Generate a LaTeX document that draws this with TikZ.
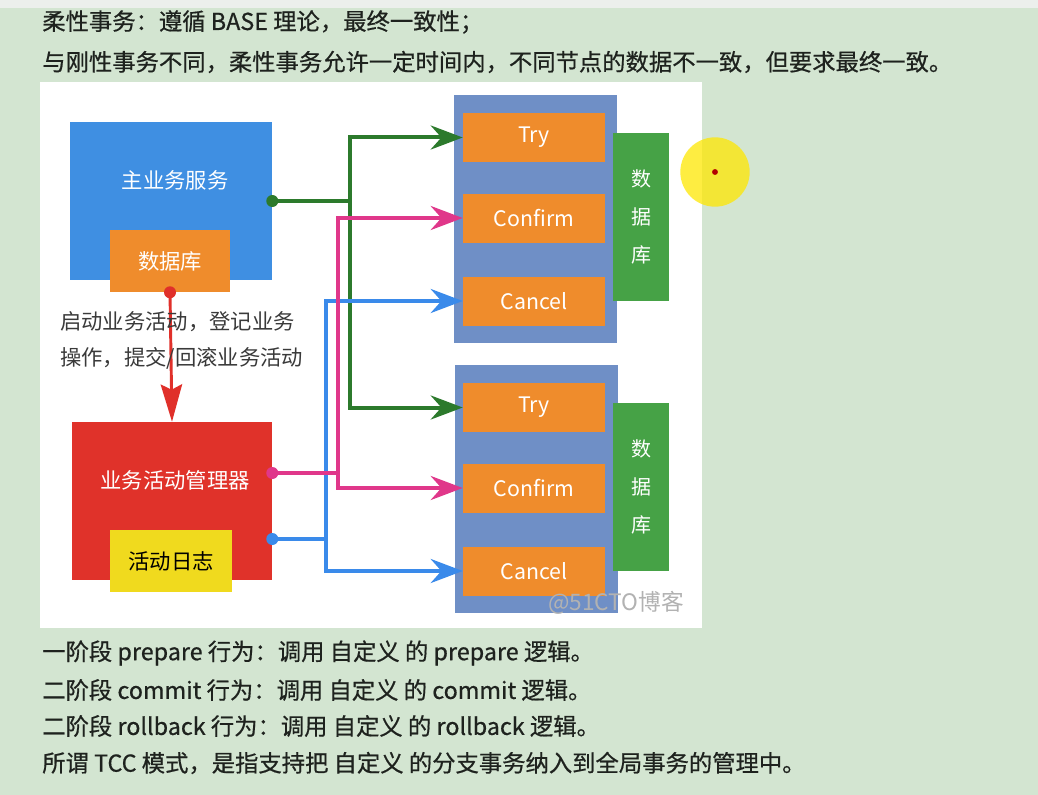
\documentclass[tikz,border=0pt]{standalone}
\usepackage{fontspec}
\setmainfont{Noto Sans CJK SC}
\newfontfamily\heavycjk[FakeBold=0.6]{Noto Sans CJK SC}
\usetikzlibrary{arrows.meta}
\definecolor{bg}{HTML}{D3E5D1}
\definecolor{topstrip}{HTML}{ECEFEC}
\definecolor{txtdark}{HTML}{1E221E}
\definecolor{txtgray}{HTML}{3A3A3A}
\definecolor{mainblue}{HTML}{3F8FE2}
\definecolor{dborange}{HTML}{EF8C2C}
\definecolor{mgrred}{HTML}{E0322A}
\definecolor{logyellow}{HTML}{F0DA1E}
\definecolor{panelblue}{HTML}{6F8FC6}
\definecolor{dbgreen}{HTML}{46A246}
\definecolor{lgreen}{HTML}{2C7A2C}
\definecolor{lpink}{HTML}{E0378A}
\definecolor{lblue}{HTML}{3A8AEA}
\definecolor{lred}{HTML}{E0302A}
\begin{document}
\begin{tikzpicture}[x=0.75pt,y=-0.75pt,
  txt/.style={anchor=west,inner sep=0pt,font=\heavycjk\fontsize{17.5}{20}\selectfont,text=txtdark},
  boxnode/.style={inner sep=0pt,draw=none},
  boxlabel/.style={inner sep=0pt,font=\fontsize{16}{19}\selectfont,text=white},
  opbox/.style={boxnode,fill=dborange,minimum width=106.5pt,minimum height=36.75pt,font=\fontsize{16}{19}\selectfont,text=white},
  panelbox/.style={boxnode,fill=panelblue,minimum width=122.25pt,minimum height=186pt},
  dbbox/.style={boxnode,fill=dbgreen,minimum width=42pt,minimum height=126pt,font=\fontsize{15}{28.5}\selectfont,text=white,align=center},
  conn/.style={line width=3pt,-{Stealth[length=24pt,width=18pt,inset=8pt]}},
]
\useasboundingbox (0,0) rectangle (1038,795);
\fill[bg] (0,0) rectangle (1038,795);
\fill[topstrip] (0,0) rectangle (1038,8);
\fill[white] (40,82) rectangle (702,628);

% header text
\node[txt] (h1) at (42,22) {柔性事务：遵循 BASE 理论，最终一致性；};
\node[txt] (h2) at (42,62) {与刚性事务不同，柔性事务允许一定时间内，不同节点的数据不一致，但要求最终一致。};

% left boxes
\node[boxnode,fill=mainblue,minimum width=151.5pt,minimum height=118.5pt] (main) at (171,201) {};
\node[boxlabel] (mainlbl) at (175,180) {主业务服务};
\node[boxnode,fill=dborange,minimum width=90pt,minimum height=46.5pt,boxlabel] (maindb) at (170,261) {数据库};
\node[boxnode,fill=mgrred,minimum width=150pt,minimum height=118.5pt] (mgr) at (172,501) {};
\node[boxlabel] (mgrlbl) at (175,480) {业务活动管理器};
\node[boxnode,fill=logyellow,minimum width=91.5pt,minimum height=46.5pt,font=\fontsize{16}{19}\selectfont,text=black] (log) at (171,561) {活动日志};

% red arrow
\draw[lred,line width=2.2pt,-{Stealth[length=28pt,width=16pt,inset=4pt]}] (maindb.south) -- (mgr.north);
\fill[lred] (maindb.south) circle[radius=4.5pt];

\node[txt,font=\fontsize{16}{19}\selectfont,text=txtgray] (n1) at (60,322) {启动业务活动，登记业务};
\node[txt,font=\fontsize{16}{19}\selectfont,text=txtgray] (n2) at (60,358) {操作，提交/回滚业务活动};

% right groups
\node[panelbox] (p1) at (535.5,219) {};
\node[opbox] (try1) at (534,137.5) {Try};
\node[opbox] (confirm1) at (534,218) {Confirm};
\node[opbox] (cancel1) at (534,301) {Cancel};
\node[dbbox] (db1) at (641,217) {数\\据\\库};

\node[panelbox] (p2) at (536.5,488.5) {};
\node[opbox] (try2) at (534,407.5) {Try};
\node[opbox] (confirm2) at (534,488) {Confirm};
\node[opbox] (cancel2) at (534,571) {Cancel};
\node[dbbox] (db2) at (641,487) {数\\据\\库};

\node[inner sep=0pt,font=\fontsize{17}{20}\selectfont,text=gray!60] (wm) at (616,603) {@51CTO博客};

% connectors
\draw[conn,lgreen] (main.east) -- ++(78,0) |- (try1.west);
\draw[conn,lgreen] (main.east) -- ++(78,0) |- (try2.west);
\fill[lgreen] (main.east) circle[radius=4.5pt];

\draw[conn,lblue] ([yshift=-28.5pt]mgr.east) -- ++(54,0) |- (cancel1.west);
\draw[conn,lblue] ([yshift=-28.5pt]mgr.east) -- ++(54,0) |- (cancel2.west);
\fill[lblue] ([yshift=-28.5pt]mgr.east) circle[radius=4.5pt];

\draw[conn,lpink] ([yshift=21pt]mgr.east) -- ++(66,0) |- (confirm1.west);
\draw[conn,lpink] ([yshift=21pt]mgr.east) -- ++(66,0) |- (confirm2.west);
\fill[lpink] ([yshift=21pt]mgr.east) circle[radius=4.5pt];

% cursor highlight
\fill[yellow!90!orange,opacity=0.75] (715,172) circle[radius=26pt];
\fill[red!70!black] (715,172) circle[radius=2.2pt];

% footer text
\node[txt] (f1) at (42,653) {一阶段 prepare 行为：调用 自定义 的 prepare 逻辑。};
\node[txt] (f2) at (42,690) {二阶段 commit 行为：调用 自定义 的 commit 逻辑。};
\node[txt] (f3) at (42,726) {二阶段 rollback 行为：调用 自定义 的 rollback 逻辑。};
\node[txt] (f4) at (42,763) {所谓 TCC 模式，是指支持把 自定义 的分支事务纳入到全局事务的管理中。};
\end{tikzpicture}
\end{document}
